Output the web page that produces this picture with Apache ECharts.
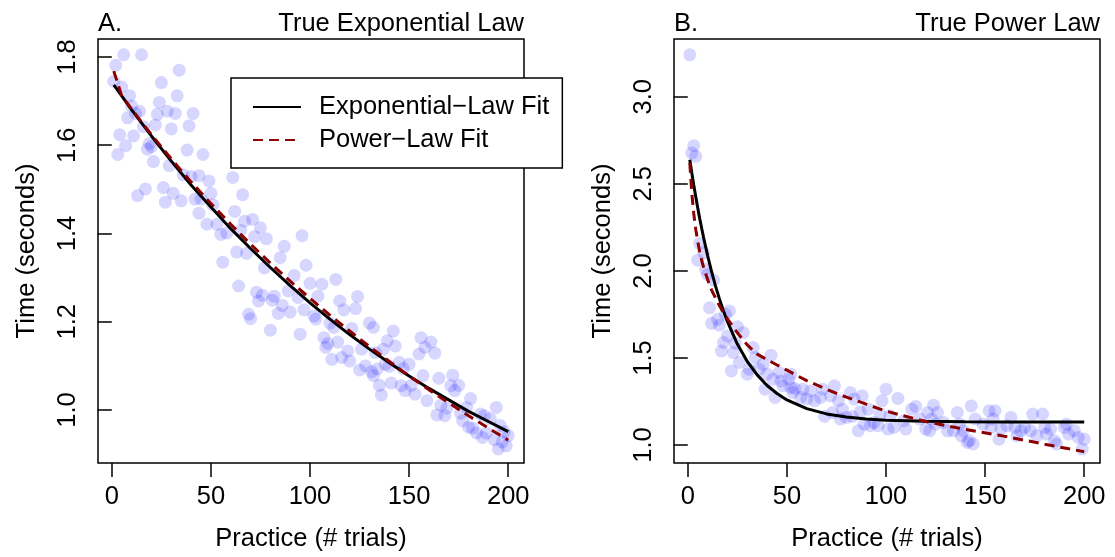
<!DOCTYPE html>
<html>
<head>
<meta charset="utf-8">
<script src="https://cdn.jsdelivr.net/npm/echarts@6/dist/echarts.min.js"></script>
<style>
html,body{margin:0;padding:0;background:#fff;}
#chart{width:1115px;height:557px;}
</style>
</head>
<body>
<div id="chart"></div>
<script>
// ---------- Panel A: True Exponential Law (observed points) ----------
const aX = [6,15,2,1,34,25,5,33,9,24,10,14,28,32,41,23,8,12,22,39,16,30,4,11,7,19,20,3,18,38,46,21,29,61,40,36,44,49,17,13,26,31,27,35,42,50,45,51,44,48,53,55,58,62,66,67,71,75,65,72,78,96,87,63,68,85,77,98,92,113,100,106,64,73,76,82,89,94,104,74,81,86,97,115,124,117,123,84,90,69,70,102,103,110,130,132,112,80,95,121,107,114,109,108,119,111,116,120,126,128,125,131,133,142,139,156,161,158,163,155,143,137,145,150,138,140,134,147,132,157,165,172,175,151,135,141,146,171,173,148,153,136,159,181,194,166,169,179,164,168,176,186,188,177,191,180,184,189,196,182,200,193,197,199,195,198,187,56];
const aY = [1.805,1.805,1.781,1.745,1.770,1.742,1.732,1.712,1.712,1.697,1.689,1.677,1.677,1.672,1.672,1.670,1.662,1.672,1.646,1.644,1.642,1.637,1.624,1.621,1.599,1.604,1.597,1.579,1.591,1.589,1.579,1.563,1.554,1.527,1.529,1.533,1.531,1.519,1.501,1.486,1.504,1.491,1.471,1.474,1.478,1.491,1.478,1.465,1.446,1.421,1.421,1.398,1.401,1.450,1.488,1.428,1.432,1.413,1.407,1.393,1.388,1.395,1.371,1.358,1.355,1.345,1.322,1.328,1.305,1.296,1.287,1.285,1.281,1.267,1.260,1.258,1.270,1.255,1.258,1.247,1.249,1.237,1.227,1.247,1.257,1.227,1.230,1.219,1.222,1.217,1.207,1.213,1.206,1.197,1.197,1.187,1.187,1.181,1.172,1.185,1.164,1.154,1.151,1.142,1.134,1.115,1.119,1.111,1.138,1.100,1.091,1.087,1.130,1.179,1.157,1.164,1.154,1.142,1.129,1.127,1.145,1.138,1.108,1.104,1.104,1.099,1.093,1.094,1.078,1.078,1.072,1.079,1.056,1.056,1.056,1.061,1.055,1.055,1.044,1.044,1.036,1.034,1.021,1.026,1.006,1.011,1.004,1.006,0.989,0.987,0.993,0.991,0.987,0.976,0.980,0.961,0.948,0.948,0.965,0.959,0.942,0.933,0.928,0.919,0.912,0.951,0.938,1.335];

// Panel A fitted curves
const aFitX   = [1,5,10,20,30,40,50,60,70,80,90,100,110,120,130,140,150,160,170,180,190,200];
const aExpFit = [1.737,1.712,1.680,1.621,1.564,1.510,1.460,1.411,1.366,1.323,1.282,1.243,1.206,1.171,1.138,1.107,1.077,1.049,1.023,0.997,0.974,0.951];
const aPowFit = [1.768,1.712,1.682,1.624,1.569,1.517,1.468,1.421,1.376,1.333,1.292,1.253,1.215,1.179,1.144,1.110,1.077,1.046,1.016,0.987,0.959,0.932];

// ---------- Panel B: True Power Law (observed points) ----------
const bX = [1,3,2,4,6,8,5,9,10,13,11,21,19,15,12,16,25,28,20,18,24,33,17,23,42,34,26,38,36,31,22,30,40,46,43,51,48,39,52,44,53,52,47,54,58,62,57,60,64,68,67,72,74,76,78,82,84,88,69,73,80,86,87,91,94,97,100,98,106,102,104,109,110,113,115,117,121,124,125,120,92,96,101,89,77,83,126,123,122,129,131,136,137,139,143,145,142,144,149,152,153,154,157,158,163,161,166,165,170,173,174,179,176,180,181,185,186,183,190,191,192,195,197,200,199,134,141,155,138,168];
const bY = [3.241,2.719,2.677,2.658,2.158,2.104,2.062,2.009,1.980,1.947,1.789,1.770,1.751,1.722,1.699,1.688,1.680,1.646,1.626,1.589,1.585,1.560,1.540,1.531,1.516,1.503,1.474,1.464,1.436,1.436,1.426,1.407,1.407,1.417,1.378,1.378,1.340,1.321,1.331,1.273,1.302,1.407,1.368,1.325,1.321,1.311,1.273,1.264,1.254,1.321,1.273,1.283,1.340,1.254,1.206,1.302,1.264,1.283,1.164,1.187,1.159,1.082,1.191,1.206,1.130,1.178,1.321,1.254,1.268,1.168,1.101,1.139,1.092,1.206,1.222,1.149,1.187,1.229,1.120,1.092,1.111,1.111,1.092,1.120,1.149,1.164,1.187,1.149,1.082,1.130,1.082,1.187,1.120,1.082,1.225,1.149,1.025,1.006,1.120,1.197,1.101,1.149,1.034,1.092,1.159,1.111,1.053,1.101,1.101,1.082,1.178,1.178,1.053,1.101,1.063,1.025,1.006,1.092,1.101,1.120,1.063,1.082,1.044,1.034,0.977,1.082,1.015,1.197,1.053,1.082];

// Panel B fitted curves
const bFitX   = [1,2,3,4,5,6,7,8,10,12,14,16,18,20,25,30,35,40,45,50,60,70,80,90,100,120,140,160,180,200];
const bExpFit = [2.639,2.565,2.494,2.427,2.363,2.302,2.245,2.190,2.088,1.996,1.913,1.838,1.770,1.709,1.580,1.480,1.403,1.342,1.296,1.259,1.209,1.179,1.161,1.150,1.143,1.137,1.134,1.133,1.133,1.133];
const bPowFit = [2.620,2.450,2.330,2.240,2.170,2.110,2.060,2.020,1.950,1.890,1.845,1.800,1.760,1.725,1.645,1.575,1.522,1.490,1.460,1.430,1.370,1.320,1.275,1.235,1.195,1.135,1.090,1.050,1.005,0.962];

// Axis ticks
const xTicks  = [0,50,100,150,200];
const aYTicks = [1.0,1.2,1.4,1.6,1.8];
const bYTicks = [1.0,1.5,2.0,2.5,3.0];

const FONT = "'Liberation Sans', Arial, Helvetica, sans-serif";
const FS = 25.5;
const zip = (xs, ys) => xs.map((x, i) => [x, ys[i]]);

function xAxisCfg(gridIndex){
  return {
    type:'value', gridIndex, min:-6.96, max:207.96,
    axisLine:{show:false},
    axisTick:{show:true, customValues:xTicks, length:14, lineStyle:{color:'#000', width:1.5}},
    axisLabel:{show:true, customValues:xTicks, margin:21, fontSize:FS, color:'#000', fontFamily:FONT},
    splitLine:{show:false},
    name:'Practice (# trials)', nameLocation:'middle', nameGap:63,
    nameTextStyle:{fontSize:FS, color:'#000', fontFamily:FONT}
  };
}
function yAxisCfg(gridIndex, min, max, ticks){
  return {
    type:'value', gridIndex, min, max,
    axisLine:{show:false},
    axisTick:{show:true, customValues:ticks, length:14, lineStyle:{color:'#000', width:1.5}},
    axisLabel:{show:true, customValues:ticks, rotate:90, margin:17, fontSize:FS, color:'#000', fontFamily:FONT,
               formatter:(v)=>Number(v).toFixed(1)},
    splitLine:{show:false},
    name:'Time (seconds)', nameLocation:'middle', nameGap:58,
    nameTextStyle:{fontSize:FS, color:'#000', fontFamily:FONT}
  };
}

const EXP_NAME = 'Exponential\u2212Law Fit';
const POW_NAME = 'Power\u2212Law Fit';

function scatter(xi, data){
  return {type:'scatter', xAxisIndex:xi, yAxisIndex:xi, data, symbol:'circle', symbolSize:13,
          itemStyle:{color:'rgba(0,0,255,0.2)', borderWidth:0}, silent:true, z:2};
}
function fitLine(xi, name, data, dashed){
  return {type:'line', name, xAxisIndex:xi, yAxisIndex:xi, data, symbol:'none', showSymbol:false,
          smooth:false, silent:true, z:dashed?4:3,
          lineStyle: dashed ? {color:'#8B0000', width:3, type:[10,6]} : {color:'#000', width:3, type:'solid'},
          itemStyle:{color: dashed ? '#8B0000' : '#000'}};
}

const chart = echarts.init(document.getElementById('chart'), null, {renderer:'canvas'});
const titleStyle = {fontSize:FS, fontWeight:'normal', color:'#000', fontFamily:FONT};
chart.setOption({
  animation:false,
  backgroundColor:'#fff',
  textStyle:{fontFamily:FONT},
  title:[
    {text:'A.', left:98, top:11, padding:0, textStyle:titleStyle},
    {text:'True Exponential Law', right:591, top:11, padding:0, textStyle:titleStyle},
    {text:'B.', left:674, top:11, padding:0, textStyle:titleStyle},
    {text:'True Power Law', right:15, top:11, padding:0, textStyle:titleStyle}
  ],
  legend:{
    data:[EXP_NAME, POW_NAME], orient:'vertical', left:231, top:78,
    padding:[16,13,15,21], itemGap:7, itemWidth:48, itemHeight:14,
    borderColor:'#000', borderWidth:1.5, borderRadius:0, backgroundColor:'#fff',
    selectedMode:false,
    itemStyle:{opacity:0, borderWidth:0},
    textStyle:{fontSize:FS, color:'#000', fontFamily:FONT, padding:[0,0,0,13]}
  },
  grid:[
    {left:98, top:39, width:426, height:425, show:true, borderColor:'#000', borderWidth:1.5, backgroundColor:'transparent'},
    {left:674, top:39, width:426, height:425, show:true, borderColor:'#000', borderWidth:1.5, backgroundColor:'transparent'}
  ],
  xAxis:[xAxisCfg(0), xAxisCfg(1)],
  yAxis:[yAxisCfg(0, 0.880, 1.8407, aYTicks), yAxisCfg(1, 0.897, 3.332, bYTicks)],
  series:[
    scatter(0, zip(aX, aY)),
    fitLine(0, EXP_NAME, zip(aFitX, aExpFit), false),
    fitLine(0, POW_NAME, zip(aFitX, aPowFit), true),
    scatter(1, zip(bX, bY)),
    fitLine(1, EXP_NAME, zip(bFitX, bExpFit), false),
    fitLine(1, POW_NAME, zip(bFitX, bPowFit), true)
  ]
});
</script>
</body>
</html>
